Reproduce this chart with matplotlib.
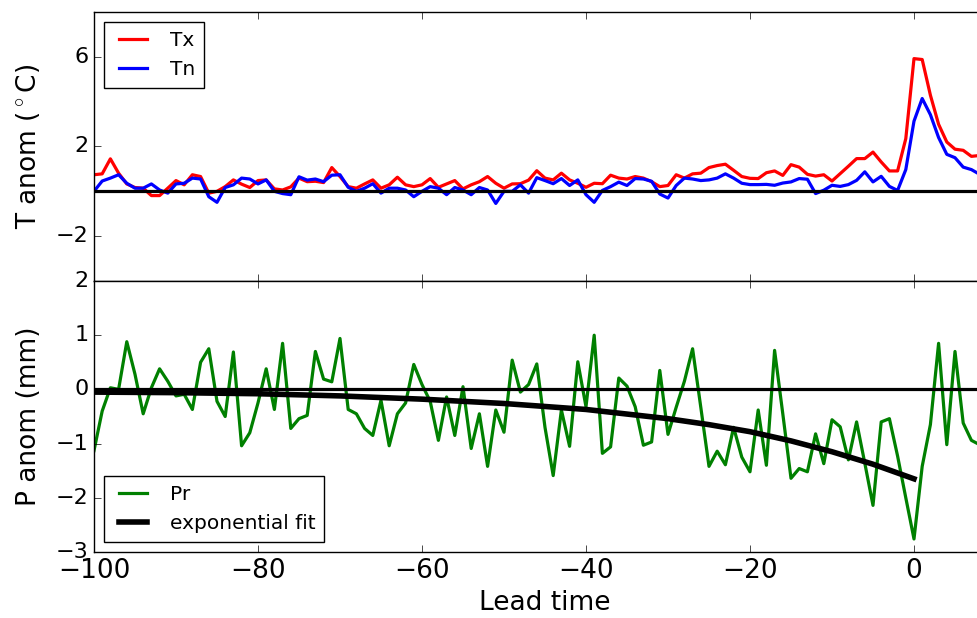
import numpy as np
import matplotlib
matplotlib.use("Agg")
import matplotlib.pyplot as plt

# lead time axis (days before event), one value per day
lead = list(range(-100, 9))

# temperature anomalies (deg C)
tx = [0.74, 0.78, 1.45, 0.81, 0.33, 0.17, 0.14, -0.19, -0.19, 0.14,
      0.48, 0.29, 0.74, 0.66, -0.08, 0.0, 0.21, 0.51, 0.32, 0.17,
      0.48, 0.51, 0.11, 0.06, 0.2, 0.59, 0.43, 0.45, 0.39, 1.06,
      0.66, 0.21, 0.14, 0.33, 0.51, 0.14, 0.29, 0.63, 0.29, 0.21,
      0.29, 0.57, 0.18, 0.33, 0.48, 0.11, 0.29, 0.43, 0.66, 0.36,
      0.14, 0.33, 0.34, 0.5, 0.92, 0.59, 0.51, 0.81, 0.51, 0.36,
      0.18, 0.36, 0.34, 0.72, 0.59, 0.55, 0.66, 0.59, 0.43, 0.21,
      0.26, 0.74, 0.59, 0.78, 0.81, 1.06, 1.15, 1.21, 0.94, 0.66,
      0.58, 0.57, 0.83, 0.91, 0.71, 1.19, 1.08, 0.76, 0.68, 0.74,
      0.46, 0.79, 1.12, 1.46, 1.46, 1.75, 1.31, 0.91, 0.91, 2.35,
      5.92, 5.88, 4.29, 2.99, 2.2, 1.88, 1.83, 1.56, 1.6]
tn = [0.0, 0.46, 0.59, 0.74, 0.36, 0.14, 0.14, 0.33, 0.06, -0.08,
      0.33, 0.36, 0.59, 0.55, -0.24, -0.49, 0.17, 0.29, 0.59, 0.55,
      0.33, 0.51, 0.0, -0.1, -0.15, 0.65, 0.5, 0.55, 0.43, 0.72,
      0.74, 0.18, 0.0, 0.14, 0.34, -0.08, 0.14, 0.14, 0.06, -0.24,
      0.0, 0.21, 0.14, -0.15, 0.17, 0.06, -0.15, 0.17, 0.06, -0.54,
      0.0, 0.0, 0.29, -0.08, 0.61, 0.48, 0.34, 0.57, 0.26, 0.51,
      -0.15, -0.49, 0.04, 0.21, 0.41, 0.26, 0.57, 0.55, 0.45, -0.12,
      -0.3, 0.26, 0.59, 0.55, 0.48, 0.51, 0.59, 0.78, 0.59, 0.36,
      0.3, 0.3, 0.31, 0.27, 0.37, 0.42, 0.57, 0.54, -0.1, 0.05,
      0.27, 0.22, 0.3, 0.49, 0.87, 0.42, 0.67, 0.22, 0.04, 0.97,
      3.13, 4.14, 3.42, 2.4, 1.65, 1.5, 1.08, 0.97, 0.76]

# precipitation anomaly (mm)
pr = [-1.13, -0.40, 0.03, 0.0, 0.88, 0.28, -0.45, 0.03, 0.38, 0.15,
      -0.12, -0.09, -0.37, 0.50, 0.75, -0.22, -0.50, 0.69, -1.04, -0.80,
      -0.25, 0.38, -0.37, 0.85, -0.72, -0.54, -0.48, 0.70, 0.19, 0.14,
      0.94, -0.37, -0.45, -0.72, -0.85, -0.20, -1.04, -0.45, -0.25, 0.46,
      0.09, -0.22, -0.94, -0.14, -0.85, 0.05, -1.09, -0.45, -1.42, -0.38,
      -0.79, 0.54, -0.05, 0.09, 0.47, -0.70, -1.59, -0.38, -1.05, 0.51,
      -0.32, 1.0, -1.18, -1.06, 0.21, 0.06, -0.32, -1.03, -0.97, 0.35,
      -0.83, -0.33, 0.15, 0.75, -0.33, -1.42, -1.14, -1.39, -0.70, -1.25,
      -1.52, -0.38, -1.40, 0.72, -0.45, -1.64, -1.46, -1.52, -0.82, -1.37,
      -0.56, -0.69, -1.30, -0.60, -1.36, -2.14, -0.60, -0.54, -1.23, -2.0,
      -2.76, -1.42, -0.65, 0.85, -1.02, 0.70, -0.62, -0.94, -1.02]

# exponential fit
fit_lead = [-100, -90, -80, -70, -60, -50, -40, -30, -25, -20, -15, -10, -5, 0]
fit_val = [-0.05, -0.06, -0.08, -0.12, -0.18, -0.26, -0.37, -0.54, -0.65,
           -0.78, -0.95, -1.15, -1.38, -1.65]

plt.style.use('classic')
plt.rcParams['font.family'] = ['DejaVu Sans']

fig = plt.figure(figsize=(9.78, 6.18), dpi=100, facecolor='white')
# axes run a bit past the right edge, like the cropped original
ax1 = fig.add_axes([0.0961, 0.5453, 0.9223, 0.4353])
ax2 = fig.add_axes([0.0961, 0.1068, 0.9223, 0.4385])

ax1.plot(lead, tx, color='r', lw=2.3, label='Tx')
ax1.plot(lead, tn, color='b', lw=2.3, label='Tn')
ax1.axhline(0, color='k', lw=2.3)
ax1.set_xlim(-100, 10)
ax1.set_ylim(-4, 8)
ax1.set_yticks([-2, 2, 6])
ax1.set_xticklabels([])
ax1.set_ylabel(r'T anom ($^\circ$C)', fontsize=19, labelpad=10)
ax1.legend(loc='upper left', fontsize=14.5, handlelength=2.0, borderpad=0.45,
           labelspacing=0.5)

ax2.plot(lead, pr, color='g', lw=2.3, label='Pr')
ax2.plot(fit_lead, fit_val, color='k', lw=4, label='exponential fit')
ax2.axhline(0, color='k', lw=2.3)
ax2.set_xlim(-100, 10)
ax2.set_ylim(-3, 2)
ax2.set_yticks([-3, -2, -1, 0, 1, 2])
ax2.set_xticks([-100, -80, -60, -40, -20, 0])
ax2.set_xlabel('Lead time', fontsize=19)
ax2.set_ylabel('P anom (mm)', fontsize=19, labelpad=10)
ax2.legend(loc='lower left', fontsize=14.5, handlelength=2.0, borderpad=0.45,
           labelspacing=0.5)

for ax in (ax1, ax2):
    ax.tick_params(axis='x', labelsize=19)
    ax.tick_params(axis='y', labelsize=16)
    ax.tick_params(direction='in', length=5)

fig.savefig('out.png', dpi=100, facecolor='white')
